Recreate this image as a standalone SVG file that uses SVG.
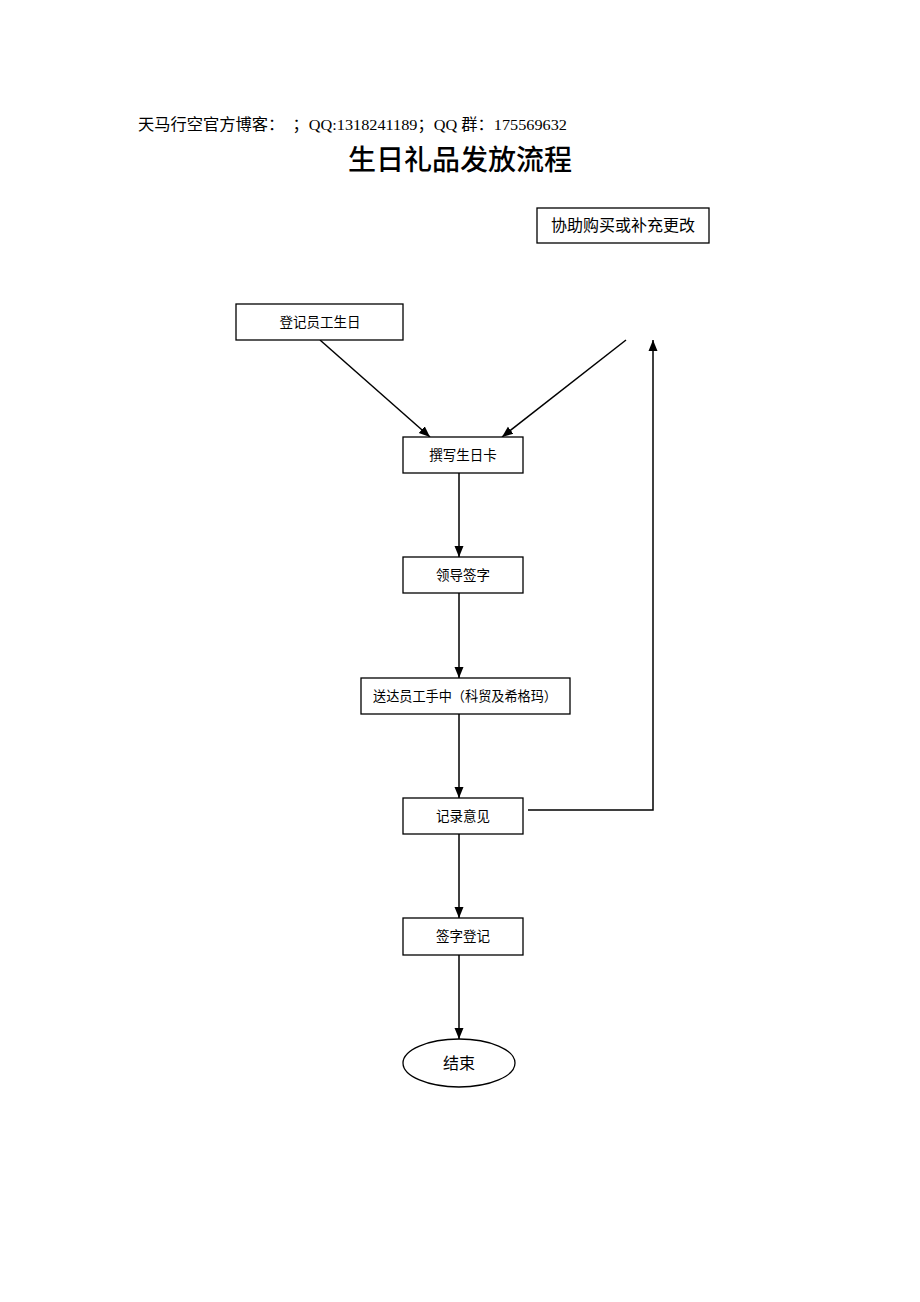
<svg xmlns="http://www.w3.org/2000/svg" width="920" height="1302" viewBox="0 0 920 1302">
<style>
.box{fill:#fff;stroke:#000;stroke-width:1.3}
.t{font-family:"Liberation Serif","Noto Sans CJK SC",serif;font-size:13.5px;fill:#000;text-anchor:middle}
.big{font-size:16px}
.ln{stroke:#000;stroke-width:1.5;fill:none}
</style>
<defs>
<marker id="ah" markerWidth="12" markerHeight="12" refX="11" refY="6" orient="auto" markerUnits="userSpaceOnUse">
<path d="M0,1.5 L11,6 L0,10.5 Z" fill="#000"/>
</marker>
</defs>
<rect width="920" height="1302" fill="#fff"/>
<text x="138" y="130" textLength="429" lengthAdjust="spacingAndGlyphs" font-family="Liberation Serif,'Noto Sans CJK SC',serif" font-size="15.5" fill="#000">天马行空官方博客：　；QQ:1318241189；QQ 群：175569632</text>
<text x="460" y="170" text-anchor="middle" font-family="'Noto Sans CJK SC',sans-serif" font-size="28" font-weight="500" fill="#000">生日礼品发放流程</text>
<g id="connectors">
<line class="ln" x1="320" y1="340" x2="430" y2="437" marker-end="url(#ah)"/>
<line class="ln" x1="626" y1="340" x2="502" y2="437" marker-end="url(#ah)"/>
<line class="ln" x1="459" y1="473" x2="459" y2="557" marker-end="url(#ah)"/>
<line class="ln" x1="459" y1="593" x2="459" y2="678" marker-end="url(#ah)"/>
<line class="ln" x1="459" y1="714" x2="459" y2="798" marker-end="url(#ah)"/>
<line class="ln" x1="459" y1="834" x2="459" y2="918" marker-end="url(#ah)"/>
<line class="ln" x1="459" y1="955" x2="459" y2="1039" marker-end="url(#ah)"/>
<polyline class="ln" points="528,810 653,810 653,340" marker-end="url(#ah)"/>
</g>
<g id="n_help"><rect class="box" x="537" y="208" width="172" height="35"/><text class="t big" x="623" y="231">协助购买或补充更改</text></g>
<g id="n_reg"><rect class="box" x="236" y="304" width="167" height="36"/><text class="t" x="320" y="327">登记员工生日</text></g>
<g id="n_write"><rect class="box" x="403" y="437" width="120" height="36"/><text class="t" x="463" y="460">撰写生日卡</text></g>
<g id="n_sign"><rect class="box" x="403" y="557" width="120" height="36"/><text class="t" x="463" y="580">领导签字</text></g>
<g id="n_send"><rect class="box" x="361" y="678" width="209" height="36"/><text class="t" x="465" y="701" textLength="184" lengthAdjust="spacingAndGlyphs">送达员工手中（科贸及希格玛）</text></g>
<g id="n_record"><rect class="box" x="403" y="798" width="120" height="36"/><text class="t" x="463" y="821">记录意见</text></g>
<g id="n_log"><rect class="box" x="403" y="918" width="120" height="37"/><text class="t" x="463" y="941">签字登记</text></g>
<g id="n_end"><ellipse class="box" cx="459" cy="1063" rx="56" ry="24"/><text class="t big" x="459" y="1069">结束</text></g>
</svg>
